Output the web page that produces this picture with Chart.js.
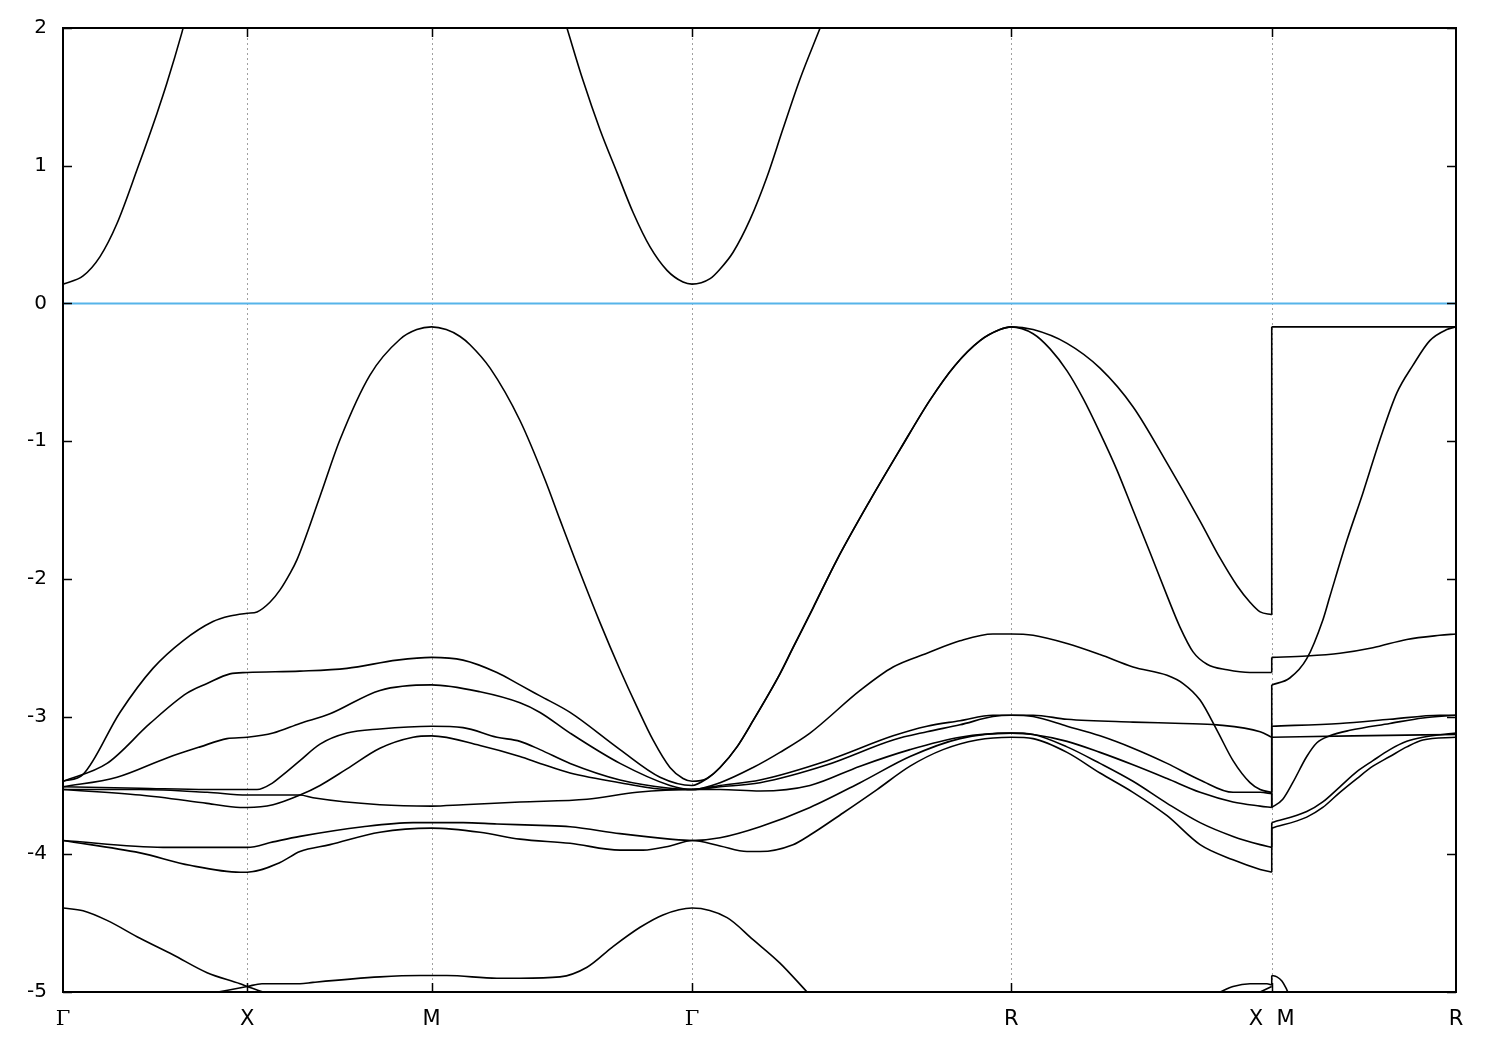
<!DOCTYPE html>
<html>
<head>
<meta charset="utf-8">
<title>Band structure</title>
<script src="https://cdn.jsdelivr.net/npm/chart.js@4.4.1/dist/chart.umd.min.js"></script>
<style>
    html, body { margin: 0; padding: 0; background: #fff; }
    #bands { display: block; }
</style>
</head>
<body>
<canvas id="bands" width="1500" height="1050"></canvas>
<script>
// high-symmetry points along the k-path
const highSymK = [0, 1, 2, 3.414, 5.146, 6.56, 7.56];
const highSymLabels = ['Γ', 'X', 'M', 'Γ', 'R', 'X  M', 'R'];
const energyMin = -5;
const energyMax = 2;
const fermiLevel = 0;

// [k, E] pairs. "Left" runs Γ-X-M-Γ-R-X, "Right" runs M-R
const band1Left = [[0,-3.47],[0.109,-3.42],[0.309,-2.97],[0.488,-2.65],[0.651,-2.45],[0.814,-2.31],[0.906,-2.27],[1,-2.25],[1.053,-2.24],[1.123,-2.17],[1.178,-2.08],[1.232,-1.96],[1.27,-1.86],[1.395,-1.40],[1.503,-0.99],[1.666,-0.52],[1.829,-0.26],[1.92,-0.19],[2,-0.17],[2.08,-0.19],[2.155,-0.24],[2.209,-0.30],[2.318,-0.47],[2.48,-0.85],[2.616,-1.28],[2.697,-1.57],[2.779,-1.86],[2.915,-2.32],[3.023,-2.66],[3.115,-2.93],[3.202,-3.17],[3.294,-3.37],[3.365,-3.45],[3.414,-3.47],[3.495,-3.45],[3.566,-3.37],[3.658,-3.22],[3.745,-3.03],[3.891,-2.69],[3.962,-2.50],[4.071,-2.21],[4.201,-1.86],[4.38,-1.43],[4.543,-1.06],[4.706,-0.70],[4.841,-0.45],[4.977,-0.27],[5.085,-0.19],[5.146,-0.17],[5.265,-0.22],[5.357,-0.33],[5.449,-0.49],[5.536,-0.69],[5.628,-0.94],[5.72,-1.21],[5.807,-1.50],[5.9,-1.81],[5.997,-2.14],[6.062,-2.35],[6.133,-2.53],[6.209,-2.62],[6.318,-2.66],[6.442,-2.68],[6.56,-2.68]];
const band1Right = [[6.56,-2.57],[6.75,-2.56],[6.93,-2.54],[7.109,-2.50],[7.293,-2.44],[7.472,-2.41],[7.56,-2.40]];

const band2Left = [[0,-3.47],[0.239,-3.34],[0.472,-3.05],[0.673,-2.83],[0.782,-2.76],[0.906,-2.69],[1,-2.68],[1.286,-2.67],[1.541,-2.65],[1.813,-2.59],[2,-2.57],[2.171,-2.59],[2.355,-2.68],[2.48,-2.77],[2.589,-2.85],[2.752,-2.97],[3.023,-3.24],[3.24,-3.44],[3.414,-3.50],[3.495,-3.45],[3.566,-3.37],[3.658,-3.22],[3.745,-3.03],[3.891,-2.69],[3.962,-2.50],[4.071,-2.21],[4.201,-1.86],[4.38,-1.43],[4.543,-1.06],[4.706,-0.70],[4.841,-0.45],[4.977,-0.27],[5.085,-0.19],[5.146,-0.17],[5.265,-0.19],[5.449,-0.29],[5.628,-0.47],[5.807,-0.75],[5.992,-1.16],[6.171,-1.58],[6.28,-1.85],[6.372,-2.05],[6.442,-2.17],[6.497,-2.24],[6.56,-2.26]];
const band2Right = [[6.56,-0.17],[7.56,-0.17]];

const band3Left = [[0,-3.51],[0.293,-3.44],[0.564,-3.30],[0.744,-3.22],[0.89,-3.16],[1,-3.15],[1.14,-3.12],[1.286,-3.05],[1.449,-2.98],[1.72,-2.81],[2,-2.77],[2.263,-2.82],[2.48,-2.90],[2.589,-2.97],[2.752,-3.12],[3.023,-3.34],[3.294,-3.50],[3.414,-3.53],[3.566,-3.48],[3.745,-3.37],[3.891,-3.26],[4.054,-3.12],[4.326,-2.81],[4.505,-2.64],[4.689,-2.54],[4.868,-2.45],[5.047,-2.40],[5.146,-2.40],[5.265,-2.41],[5.449,-2.47],[5.628,-2.55],[5.807,-2.64],[5.992,-2.70],[6.079,-2.76],[6.171,-2.88],[6.263,-3.10],[6.35,-3.32],[6.442,-3.48],[6.497,-3.53],[6.56,-3.55]];
const band3Right = [[6.56,-3.07],[6.93,-3.05],[7.201,-3.02],[7.472,-2.99],[7.56,-2.99]];

const band4Left = [[0,-3.51],[0.418,-3.52],[0.782,-3.53],[1,-3.53],[1.053,-3.53],[1.14,-3.48],[1.178,-3.44],[1.215,-3.40],[1.286,-3.32],[1.395,-3.20],[1.541,-3.12],[1.72,-3.09],[2,-3.07],[2.171,-3.08],[2.355,-3.15],[2.48,-3.18],[2.589,-3.24],[2.752,-3.34],[3.023,-3.46],[3.294,-3.52],[3.414,-3.53],[3.566,-3.50],[3.783,-3.46],[4.147,-3.32],[4.505,-3.14],[4.689,-3.07],[4.868,-3.03],[5.047,-2.99],[5.146,-2.99],[5.265,-2.99],[5.449,-3.02],[5.807,-3.04],[6.079,-3.05],[6.263,-3.06],[6.497,-3.11],[6.56,-3.15]];
const band4Right = [[6.56,-2.77],[6.658,-2.72],[6.75,-2.58],[6.837,-2.30],[6.875,-2.13],[6.968,-1.72],[7.054,-1.38],[7.147,-0.99],[7.239,-0.65],[7.326,-0.45],[7.418,-0.27],[7.51,-0.19],[7.56,-0.17]];

const band5Left = [[0,-3.53],[0.418,-3.57],[0.782,-3.63],[0.961,-3.66],[1,-3.66],[1.14,-3.64],[1.286,-3.57],[1.395,-3.50],[1.541,-3.38],[1.72,-3.23],[1.9,-3.15],[2,-3.14],[2.263,-3.21],[2.48,-3.29],[2.589,-3.34],[2.752,-3.41],[3.023,-3.48],[3.294,-3.53],[3.414,-3.53],[3.566,-3.51],[3.783,-3.48],[4.147,-3.35],[4.505,-3.17],[4.689,-3.11],[4.868,-3.06],[5.047,-3.00],[5.146,-2.99],[5.265,-3.00],[5.449,-3.07],[5.628,-3.14],[5.807,-3.23],[5.992,-3.34],[6.171,-3.46],[6.35,-3.55],[6.497,-3.55],[6.56,-3.56]];
const band5Right = [[6.56,-3.66],[6.62,-3.60],[6.674,-3.48],[6.75,-3.29],[6.805,-3.19],[6.875,-3.14],[6.984,-3.10],[7.201,-3.05],[7.38,-3.01],[7.56,-2.99]];

const band6Left = [[0,-3.53],[0.418,-3.53],[0.782,-3.55],[1,-3.57],[1.14,-3.57],[1.286,-3.57],[1.357,-3.59],[1.72,-3.64],[2,-3.65],[2.171,-3.64],[2.48,-3.62],[2.844,-3.60],[3.115,-3.55],[3.414,-3.53],[3.566,-3.53],[3.783,-3.54],[4.054,-3.50],[4.326,-3.36],[4.597,-3.24],[4.868,-3.15],[5.146,-3.12],[5.265,-3.13],[5.449,-3.18],[5.628,-3.26],[5.807,-3.35],[5.992,-3.45],[6.171,-3.55],[6.35,-3.62],[6.497,-3.65],[6.56,-3.66]];
const band6Right = [[6.56,-3.15],[7.0,-3.14],[7.56,-3.13]];

const band7Left = [[0,-3.90],[0.543,-3.95],[1,-3.95],[1.14,-3.91],[1.286,-3.87],[1.628,-3.80],[1.9,-3.77],[2.171,-3.77],[2.355,-3.78],[2.589,-3.79],[2.752,-3.80],[3.023,-3.85],[3.294,-3.89],[3.414,-3.90],[3.566,-3.88],[3.783,-3.80],[4.054,-3.66],[4.326,-3.48],[4.597,-3.29],[4.868,-3.16],[5.146,-3.12],[5.265,-3.13],[5.449,-3.22],[5.628,-3.34],[5.807,-3.47],[5.992,-3.63],[6.171,-3.77],[6.35,-3.87],[6.497,-3.93],[6.56,-3.95]];
const band7Right = [[6.56,-3.77],[6.75,-3.69],[6.837,-3.62],[6.93,-3.51],[7.022,-3.40],[7.109,-3.32],[7.201,-3.24],[7.293,-3.18],[7.38,-3.15],[7.56,-3.12]];

const band8Left = [[0,-3.90],[0.418,-3.99],[0.689,-4.08],[0.961,-4.13],[1,-4.13],[1.178,-4.06],[1.286,-3.98],[1.449,-3.93],[1.72,-3.84],[2,-3.81],[2.263,-3.84],[2.48,-3.89],[2.752,-3.92],[3.023,-3.97],[3.148,-3.97],[3.294,-3.94],[3.414,-3.90],[3.566,-3.94],[3.712,-3.98],[3.783,-3.98],[3.962,-3.93],[4.054,-3.86],[4.233,-3.70],[4.418,-3.53],[4.597,-3.36],[4.776,-3.24],[4.961,-3.17],[5.146,-3.15],[5.265,-3.16],[5.449,-3.26],[5.628,-3.41],[5.807,-3.55],[5.992,-3.72],[6.171,-3.93],[6.35,-4.04],[6.497,-4.11],[6.56,-4.13]];
const band8Right = [[6.56,-3.81],[6.75,-3.73],[6.837,-3.66],[6.93,-3.55],[7.022,-3.45],[7.109,-3.36],[7.201,-3.29],[7.293,-3.22],[7.38,-3.17],[7.56,-3.15]];

// deep bands near the bottom edge
const bottom1 = [[0,-4.39],[0.109,-4.41],[0.239,-4.48],[0.418,-4.61],[0.597,-4.73],[0.782,-4.86],[0.961,-4.94],[1,-4.96],[1.085,-5.0]];
const bottom2 = [[0.841,-5.0],[1,-4.96],[1.08,-4.94],[1.286,-4.94],[1.357,-4.93],[1.72,-4.89],[1.938,-4.88],[2.084,-4.88],[2.355,-4.90],[2.48,-4.90],[2.697,-4.89],[2.844,-4.82],[2.985,-4.67],[3.132,-4.53],[3.256,-4.44],[3.414,-4.39],[3.604,-4.46],[3.745,-4.62],[3.891,-4.79],[4.038,-5.0]];
const bottom3Left = [[6.28,-5.0],[6.35,-4.96],[6.442,-4.94],[6.534,-4.94],[6.56,-4.95]];
const bottom3Right = [[6.56,-4.88],[6.588,-4.89],[6.615,-4.92],[6.637,-4.97],[6.647,-5.0]];
const bottom4 = [[6.497,-5.0],[6.56,-4.96]];

// conduction band
const cond1 = [[0,0.14],[0.109,0.20],[0.201,0.34],[0.293,0.58],[0.407,0.99],[0.51,1.38],[0.564,1.60],[0.646,1.97],[0.652,2.0]];
const cond2 = [[2.735,2.0],[2.822,1.62],[2.915,1.26],[3.007,0.95],[3.094,0.66],[3.186,0.41],[3.278,0.24],[3.365,0.155],[3.414,0.14],[3.512,0.18],[3.566,0.25],[3.636,0.37],[3.729,0.61],[3.821,0.92],[3.908,1.27],[4.0,1.63],[4.109,2.0]];

const bandPairs = [
    [band1Left, band1Right],
    [band2Left, band2Right],
    [band3Left, band3Right],
    [band4Left, band4Right],
    [band5Left, band5Right],
    [band6Left, band6Right],
    [band7Left, band7Right],
    [band8Left, band8Right],
    [bottom3Left, bottom3Right]
];
const singleCurves = [bottom1, bottom2, bottom4, cond1, cond2];

const toPoints = arr => arr.map(p => ({ x: p[0], y: p[1] }));

function curveDataset(arr) {
    return {
        data: toPoints(arr),
        showLine: true,
        borderColor: '#000',
        borderWidth: 1.6,
        pointRadius: 0,
        cubicInterpolationMode: 'monotone',
        order: 0
    };
}

function jumpDataset(left, right) {
    return {
        data: toPoints([left[left.length - 1], right[0]]),
        showLine: true,
        borderColor: '#000',
        borderWidth: 1.6,
        pointRadius: 0,
        tension: 0,
        order: 0
    };
}

const datasets = [];
datasets.push({
    data: [{ x: highSymK[0], y: fermiLevel }, { x: highSymK[highSymK.length - 1], y: fermiLevel }],
    showLine: true,
    borderColor: '#56b4e9',
    borderWidth: 2,
    pointRadius: 0,
    order: 1
});
bandPairs.forEach(([left, right]) => {
    datasets.push(curveDataset(left));
    datasets.push(curveDataset(right));
    datasets.push(jumpDataset(left, right));
});
singleCurves.forEach(c => datasets.push(curveDataset(c)));

// gnuplot-like frame: dotted verticals, inward tics, box border
const gnuplotFrame = {
    id: 'gnuplotFrame',
    beforeDatasetsDraw(chart) {
        const { ctx, chartArea: a, scales: { x } } = chart;
        ctx.save();
        ctx.strokeStyle = '#a0a0a0';
        ctx.lineWidth = 1;
        ctx.setLineDash([2, 3]);
        highSymK.slice(1, -1).forEach(k => {
            const px = Math.round(x.getPixelForValue(k)) + 0.5;
            ctx.beginPath();
            ctx.moveTo(px, a.top);
            ctx.lineTo(px, a.bottom);
            ctx.stroke();
        });
        ctx.restore();
    },
    afterDraw(chart) {
        const { ctx, chartArea: a, scales: { x, y } } = chart;
        ctx.save();
        ctx.strokeStyle = '#000';
        ctx.lineWidth = 1.5;
        ctx.beginPath();
        y.ticks.forEach(t => {
            const py = Math.round(y.getPixelForValue(t.value)) + 0.5;
            ctx.moveTo(a.left, py);
            ctx.lineTo(a.left + 9, py);
            ctx.moveTo(a.right, py);
            ctx.lineTo(a.right - 9, py);
        });
        highSymK.slice(1, -1).forEach(k => {
            const px = Math.round(x.getPixelForValue(k)) + 0.5;
            ctx.moveTo(px, a.top);
            ctx.lineTo(px, a.top + 9);
            ctx.moveTo(px, a.bottom);
            ctx.lineTo(px, a.bottom - 9);
        });
        ctx.stroke();
        ctx.lineWidth = 2;
        ctx.strokeRect(a.left, a.top, a.right - a.left, a.bottom - a.top);
        ctx.restore();
    }
};

new Chart(document.getElementById('bands'), {
    type: 'scatter',
    data: { datasets: datasets },
    options: {
        responsive: false,
        animation: false,
        devicePixelRatio: 1,
        layout: { padding: { left: 0, top: 28, right: 44, bottom: 0 } },
        plugins: {
            legend: { display: false },
            tooltip: { enabled: false }
        },
        scales: {
            x: {
                type: 'linear',
                min: highSymK[0],
                max: highSymK[highSymK.length - 1],
                afterBuildTicks: axis => {
                    axis.ticks = highSymK.map(v => ({ value: v }));
                },
                afterFit: scale => { scale.height = 58; },
                grid: { display: false, drawTicks: false },
                border: { display: false },
                ticks: {
                    autoSkip: false,
                    maxRotation: 0,
                    padding: 15,
                    color: '#000',
                    callback: (value, index) => highSymLabels[index],
                    font: ctx => ({
                        family: ctx.tick && ctx.tick.label === 'Γ' ? 'DejaVu Serif' : 'DejaVu Sans',
                        size: 21
                    })
                }
            },
            y: {
                min: energyMin,
                max: energyMax,
                afterFit: scale => { scale.width = 63; },
                grid: { display: false, drawTicks: false },
                border: { display: false },
                ticks: {
                    stepSize: 1,
                    padding: 16,
                    color: '#000',
                    font: { family: 'DejaVu Sans', size: 20 }
                }
            }
        }
    },
    plugins: [gnuplotFrame]
});
</script>
</body>
</html>
